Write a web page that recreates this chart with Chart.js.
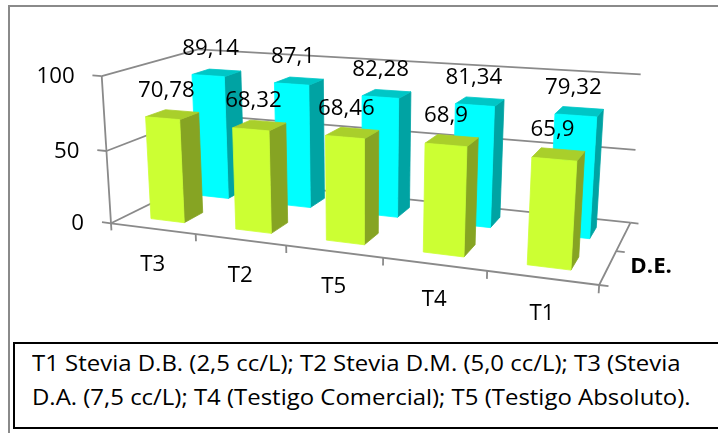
<!DOCTYPE html>
<html>
<head>
<meta charset="utf-8">
<script src="https://cdn.jsdelivr.net/npm/chart.js@4/dist/chart.umd.min.js"></script>
<style>
  html, body { margin: 0; padding: 0; background: #fff; }
  #wrap { position: relative; width: 718px; height: 433px; overflow: hidden; }
  #c { position: absolute; left: 0; top: 0; }
  #frame { position: absolute; left: 8px; top: 5px; width: 740px; height: 460px;
           border: 2px solid #8a8a8a; box-sizing: border-box; }
  #note { position: absolute; left: 13px; top: 342px; width: 740px; height: 87px;
          border: 2px solid #000; box-sizing: border-box; background: #fff;
          font-family: 'Open Sans', sans-serif; font-size: 21px; line-height: 34px;
          padding: 2px 0 0 17px; color: #000; white-space: nowrap; }
  #note span { display: inline-block; transform: scaleX(1.14); transform-origin: 0 50%; }
</style>
</head>
<body>
<div id="wrap">
  <div id="frame"></div>
  <canvas id="c" width="718" height="433"></canvas>
  <div id="note"><span>T1 Stevia D.B. (2,5 cc/L); T2 Stevia D.M. (5,0 cc/L); T3 (Stevia</span><br><span>D.A. (7,5 cc/L); T4 (Testigo Comercial); T5 (Testigo Absoluto).</span></div>
</div>
<script>
// Treatments along the category axis
const categories = ['T3', 'T2', 'T5', 'T4', 'T1'];
// Front row (yellow-green) and back row (cyan) values
const seriesFront = [70.78, 68.32, 68.46, 68.9, 65.9];
const seriesBack = [89.14, 87.1, 82.28, 81.34, 79.32];
// Value axis tick labels
const valueTicks = [0, 50, 100];
// Depth axis title
const depthTitle = 'D.E.';

// Perspective camera: world (X = category units, Y = value, Z = depth rows) -> canvas pixels
const CAM = {
  u: [78.4, -0.1296, 61.7, 111],
  v: [3.19, -1.50, -9.0, 223.3],
  w: [-0.0321, -0.00036, 0.077, 1]
};
function project(X, Y, Z) {
  const w = CAM.w[0] * X + CAM.w[1] * Y + CAM.w[2] * Z + CAM.w[3];
  return [
    (CAM.u[0] * X + CAM.u[1] * Y + CAM.u[2] * Z + CAM.u[3]) / w,
    (CAM.v[0] * X + CAM.v[1] * Y + CAM.v[2] * Z + CAM.v[3]) / w
  ];
}

const FONT = "'Open Sans', sans-serif";
const TEXT_SX = 1.06;           // horizontal stretch of the chart lettering
const ROW_GAP = 0.3;            // empty depth before/after each row of columns
const LINE = '#8a8a8a';

function label(ctx, str, x, y, align, font) {
  ctx.save();
  ctx.translate(x, y);
  ctx.scale(TEXT_SX, 1);
  ctx.font = font;
  ctx.fillStyle = '#000';
  ctx.textAlign = align;
  ctx.textBaseline = 'middle';
  ctx.fillText(str, 0, 0);
  ctx.restore();
}

function seg(ctx, a, b) {
  ctx.beginPath();
  ctx.moveTo(a[0], a[1]);
  ctx.lineTo(b[0], b[1]);
  ctx.stroke();
}

function face(ctx, pts, color) {
  ctx.beginPath();
  pts.forEach((p, i) => i ? ctx.lineTo(p[0], p[1]) : ctx.moveTo(p[0], p[1]));
  ctx.closePath();
  ctx.fillStyle = color;
  ctx.strokeStyle = color;
  ctx.lineWidth = 0.8;
  ctx.fill();
  ctx.stroke();
}

const columns3d = {
  id: 'columns3d',
  beforeDatasetsDraw(chart) {
    const ctx = chart.ctx;
    const xs = chart.scales.x, ys = chart.scales.y;
    const n = chart.data.labels.length;
    const rows = chart.data.datasets.length;
    const toX = px => (px - xs.left) / xs.width * n;
    const toY = py => ys.getValueForPixel(py);
    const tickVals = ys.ticks.map(t => t.value);

    ctx.save();
    ctx.lineWidth = 1.8;
    ctx.strokeStyle = LINE;
    ctx.lineCap = 'butt';

    // back wall and side wall gridlines
    tickVals.forEach(t => {
      seg(ctx, project(0, t, rows), project(n, t, rows));
      seg(ctx, project(0, t, 0), project(0, t, rows));
    });
    // value axis with ticks
    seg(ctx, project(0, ys.min, 0), project(0, ys.max, 0));
    tickVals.forEach(t => seg(ctx, project(0, t, 0), project(-0.11, t, 0)));
    // category axis (front floor edge) with ticks
    seg(ctx, project(0, 0, 0), project(n, 0, 0));
    for (let i = 0; i <= n; i++) seg(ctx, project(i, 0, 0), project(i, -5, 0));
    // depth axis (right floor edge) with ticks
    seg(ctx, project(n, 0, 0), project(n, 0, rows));
    for (let r = 0; r <= rows; r++) seg(ctx, project(n, 0, r), project(n + 0.08, 0, r));

    // columns: back row first, left to right
    const labelsToDraw = [];
    for (let d = rows - 1; d >= 0; d--) {
      const ds = chart.data.datasets[d];
      const meta = chart.getDatasetMeta(d);
      const z0 = d + ROW_GAP, z1 = d + 1 - ROW_GAP;
      meta.data.forEach((el, i) => {
        const x0 = toX(el.x - el.width / 2), x1 = toX(el.x + el.width / 2);
        const yt = toY(el.y), yb = toY(el.base);
        face(ctx, [project(x1, yb, z0), project(x1, yb, z1), project(x1, yt, z1), project(x1, yt, z0)], ds.sideColor);
        face(ctx, [project(x0, yt, z0), project(x1, yt, z0), project(x1, yt, z1), project(x0, yt, z1)], ds.topColor);
        face(ctx, [project(x0, yb, z0), project(x1, yb, z0), project(x1, yt, z0), project(x0, yt, z0)], ds.backgroundColor);
        const c = project((x0 + x1) / 2, yt, (z0 + z1) / 2);
        labelsToDraw.push([String(ds.data[i]).replace('.', ','), c[0] - 6, c[1] - 24]);
      });
    }

    // value labels
    labelsToDraw.forEach(l => label(ctx, l[0], l[1], l[2], 'center', '21px ' + FONT));

    // value axis labels
    tickVals.forEach(t => {
      const p = project(0, t, 0);
      label(ctx, String(t), p[0] - 27, p[1] + 1, 'right', '21px ' + FONT);
    });
    // category labels
    chart.data.labels.forEach((lab, i) => {
      const p = project(i + 0.5, 0, 0);
      label(ctx, lab, p[0], p[1] + 36, 'center', '21px ' + FONT);
    });
    // depth axis title
    const pd = project(n, 0, rows / 2);
    label(ctx, depthTitle, pd[0] + 35, pd[1] + 16, 'center', 'bold 21px ' + FONT);

    ctx.restore();
    return false;
  }
};

new Chart(document.getElementById('c'), {
  type: 'bar',
  data: {
    labels: categories,
    datasets: [
      { data: seriesFront, backgroundColor: '#ccff33', topColor: '#a9cf2b', sideColor: '#86a423' },
      { data: seriesBack, backgroundColor: '#00ffff', topColor: '#00c6c6', sideColor: '#00a3a3' }
    ]
  },
  options: {
    responsive: false,
    animation: false,
    events: [],
    layout: { padding: 0 },
    datasets: { bar: { grouped: false, barPercentage: 0.4, categoryPercentage: 1.0 } },
    plugins: { legend: { display: false }, tooltip: { enabled: false } },
    scales: {
      x: { display: false },
      y: { display: false, min: valueTicks[0], max: valueTicks[valueTicks.length - 1],
           ticks: { stepSize: valueTicks[1] - valueTicks[0] } }
    }
  },
  plugins: [columns3d]
});
</script>
</body>
</html>
